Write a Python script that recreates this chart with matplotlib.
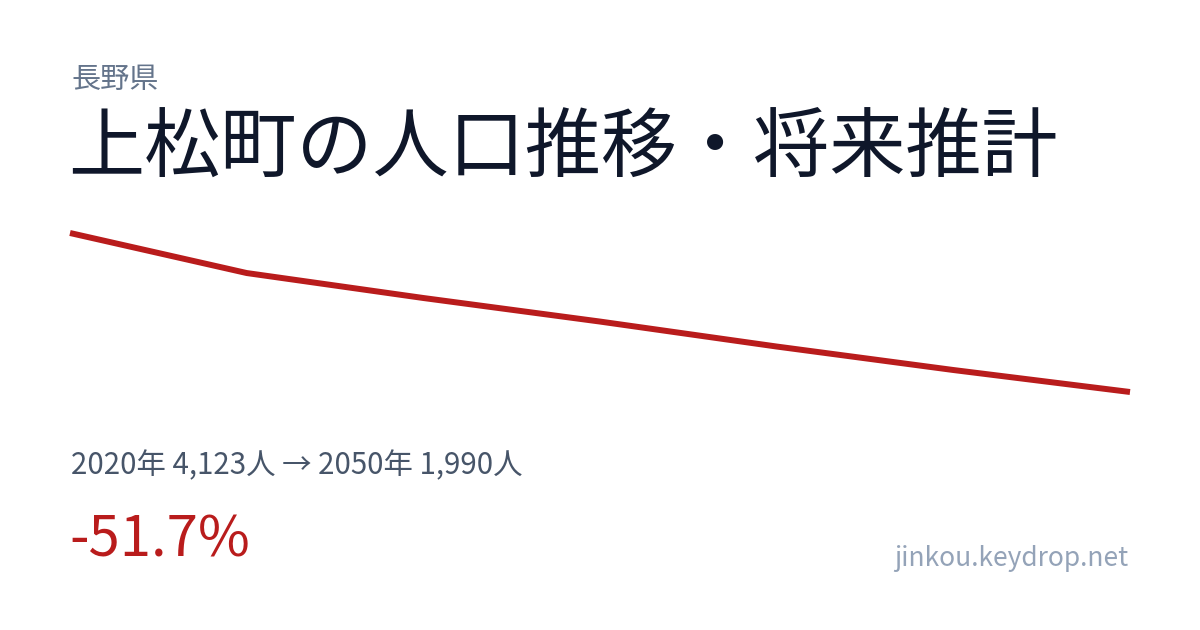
import matplotlib
matplotlib.use("Agg")
import matplotlib.pyplot as plt

years = [2020, 2025, 2030, 2035, 2040, 2045, 2050]
population = [4123, 3586, 3251, 2935, 2600, 2285, 1990]

prefecture = "長野県"
title = "上松町の人口推移・将来推計"
summary = "2020年 4,123人 → 2050年 1,990人"
change = "-51.7%"
site = "jinkou.keydrop.net"

W, H = 1200, 630
plt.rcParams['font.family'] = ['Noto Sans CJK JP', 'DejaVu Sans']
fig = plt.figure(figsize=(W / 100, H / 100), dpi=100)
fig.patch.set_facecolor('white')

def px(x, y):
    return x / W, 1 - y / H

# axes spanning the line area
x0, x1 = 70, 1130
ytop, ybot = 233, 392
ax = fig.add_axes([x0 / W, (H - ybot) / H, (x1 - x0) / W, (ybot - ytop) / H])
ax.plot(years, population, color='#b91c1c', linewidth=4.3, solid_capstyle='butt',
        solid_joinstyle='round', clip_on=False)
ax.set_xlim(min(years), max(years))
ax.set_ylim(min(population), max(population))
ax.axis('off')

fig.text(*px(71, 80), prefecture, fontsize=21, color='#64748b', va='center', ha='left')
fig.text(*px(68, 150), title, fontsize=54.8, color='#0f172a', va='center', ha='left')
fig.text(*px(71, 466), summary, fontsize=21.2, color='#475569', va='center', ha='left')
fig.text(*px(69, 541), change, fontsize=40.5, color='#b91c1c', va='center', ha='left')
fig.text(*px(1128, 558), site, fontsize=19, color='#94a3b8', va='center', ha='right')

fig.savefig('out.png', dpi=100, facecolor='white')
